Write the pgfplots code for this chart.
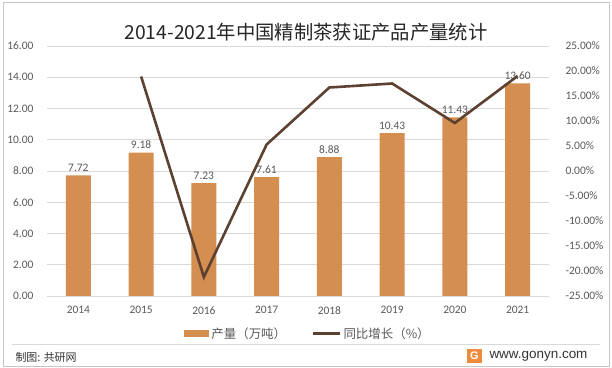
\documentclass[border=0pt]{standalone}
\usepackage{fontspec}
\setmainfont{Carlito}
\newfontfamily\cjk{Noto Sans CJK SC}
\newfontfamily\arial{Liberation Sans}
\usepackage{pgfplots}
\pgfplotsset{compat=1.18}
\definecolor{barc}{HTML}{D48E4F}
\definecolor{linec}{HTML}{5C4131}
\definecolor{txt}{HTML}{595959}
\definecolor{gridc}{HTML}{D9D9D9}
\definecolor{logoc}{HTML}{F08A3C}
\begin{document}
\begin{tikzpicture}
\useasboundingbox (0bp,0bp) rectangle (612bp,368bp);
\fill[white] (0bp,0bp) rectangle (612bp,368bp);
\draw[gray!45, line width=0.8bp] (3bp,2bp) rectangle (609bp,366bp);
\node[font=\cjk\fontsize{19.4}{22}\selectfont, text=black!85] at (306bp,336bp) {2014-2021年中国精制茶获证产品产量统计};
\begin{axis}[at={(47bp,72bp)}, anchor=south west, scale only axis,
  width=502bp, height=250bp,
  xmin=-0.5, xmax=7.5, ymin=0, ymax=16,
  ytick={0,2,...,16},
  xtick={0,...,7},
  xticklabels={2014,2015,2016,2017,2018,2019,2020,2021},
  axis line style={draw=none},
  major tick length=0pt,
  ymajorgrids, grid style={gridc, line width=0.8bp},
  tick label style={font=\fontsize{11.5}{13}\selectfont, text=txt},
  yticklabel style={/pgf/number format/fixed, /pgf/number format/fixed zerofill, /pgf/number format/precision=2, /pgf/number format/assume math mode=true, xshift=-10bp},
  xticklabel style={yshift=-7bp},
  legend style={draw=none, at={(0.52,-0.15)}, anchor=center, font=\cjk\fontsize{12.5}{14}\selectfont, text=txt,
     legend columns=2, /tikz/every even column/.append style={column sep=24bp},
     /tikz/every odd column/.append style={column sep=0bp}},
  ybar, bar width=25bp,
  nodes near coords,
  every node near coord/.append style={font=\fontsize{11.5}{13}\selectfont, text=txt,
     /pgf/number format/fixed, /pgf/number format/fixed zerofill, /pgf/number format/precision=2, /pgf/number format/assume math mode=true},
]
\addplot[fill=barc, draw=none, legend image code/.code={\fill[barc] (0bp,-3.5bp) rectangle (25bp,3.5bp);}]
  coordinates {(0,7.72) (1,9.18) (2,7.23) (3,7.61) (4,8.88) (5,10.43) (6,11.43) (7,13.60)};
\addlegendentry{产量（万吨）}
\addlegendimage{legend image code/.code={\draw[linec, line width=2.4bp] (0bp,0bp) -- (27bp,0bp);}}
\addlegendentry{同比增长（\%）}
\end{axis}
\begin{axis}[at={(47bp,72bp)}, anchor=south west, scale only axis,
  width=502bp, height=250bp,
  xmin=-0.5, xmax=7.5, ymin=-25, ymax=25,
  axis y line*=right, axis x line=none,
  axis line style={draw=none},
  major tick length=0pt,
  ytick={-25,-20,...,25},
  yticklabel={\pgfmathprintnumber[fixed,fixed zerofill,precision=2,assume math mode=true]{\tick}\%},
  tick label style={font=\fontsize{11.5}{13}\selectfont, text=txt},
  yticklabel style={anchor=west, xshift=13bp},
]
\addplot[linec, line width=2.6bp, mark=none]
  coordinates {(1,18.9) (2,-21.2) (3,5.3) (4,16.7) (5,17.5) (6,9.6) (7,19.0)};
\end{axis}
\draw[gridc, line width=0.8bp] (12bp,24bp) -- (600bp,24bp);
\node[font=\cjk\fontsize{11}{13}\selectfont, text=black!80, anchor=west] at (12bp,11bp) {制图: 共研网};
\fill[logoc] (467bp,5bp) rectangle (482bp,19bp);
\node[font=\arial\bfseries\fontsize{11}{13}\selectfont, text=white] at (474.5bp,12bp) {G};
\node[font=\arial\fontsize{13.5}{15}\selectfont, text=black!80, anchor=west] at (486bp,12bp) {www.gonyn.com};
\end{tikzpicture}
\end{document}
